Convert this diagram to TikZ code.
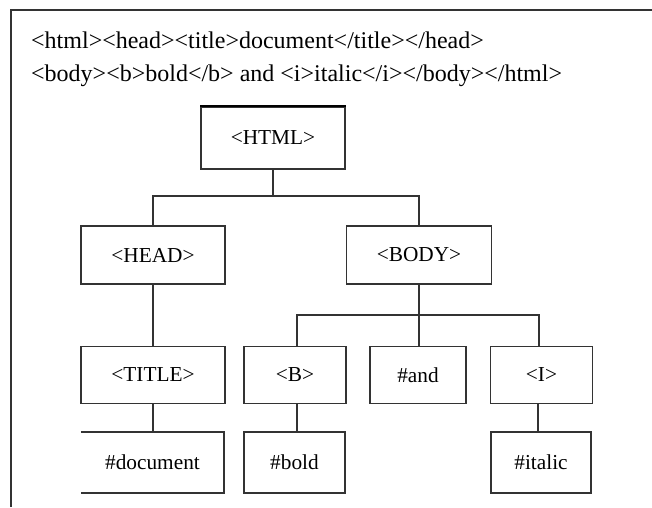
\documentclass[tikz,border=0pt]{standalone}
\usepackage{fontspec}
\setmainfont{Liberation Serif}
\begin{document}
\begin{tikzpicture}[x=1pt,y=-1pt,
  tag/.style={draw=black!80, line width=1.6pt, rectangle, inner sep=0pt,
              font=\fontsize{21.3}{24}\selectfont},
  open/.style={rectangle, inner sep=0pt,
              font=\fontsize{21.3}{24}\selectfont},
  wire/.style={draw=black!80, line width=1.8pt},
  src/.style={anchor=base west, inner sep=0pt,
              font=\fontsize{24}{28}\selectfont}]
\useasboundingbox (0,0) rectangle (652,507);

% frame: top rule and left rule
\draw[black!80, line width=2pt] (11,507) -- (11,10) -- (652,10);

% source markup
\node[src] (line1) at (31,48) {<html><head><title>document</title></head>};
\node[src] (line2) at (31,81) {<body><b>bold</b> and <i>italic</i></body></html>};

% tree nodes
\node[tag, minimum width=144, minimum height=62] (html) at (273,138) {<HTML>};
\node[tag, minimum width=144, minimum height=58] (head) at (153,255) {<HEAD>};
\node[tag, minimum width=145, minimum height=58] (body) at (419,255) {<BODY>};
\node[tag, minimum width=144, minimum height=57] (title) at (153,375) {<TITLE>};
\node[tag, minimum width=102, minimum height=57] (b) at (295,375) {<B>};
\node[tag, minimum width=96, minimum height=57] (and) at (418,375) {\#and};
\node[tag, minimum width=102, minimum height=57] (i) at (541.5,375) {<I>};
\node[open, minimum width=143, minimum height=61] (doc) at (152.5,462.5) {\#document};
\node[tag, minimum width=101, minimum height=61] (bold) at (294.5,462.5) {\#bold};
\node[tag, minimum width=100, minimum height=61] (italic) at (541,462.5) {\#italic};

% heavier top edge of the root box
\draw[black, line width=2.2pt] (html.north west) -- (html.north east);
% the #document box is open on its left side
\draw[wire] (doc.north west) -- (doc.north east) -- (doc.south east) -- (doc.south west);

% connectors
\coordinate (j1) at (273,196);
\draw[wire] (html.south) -- (j1);
\draw[wire] (head.north) |- (j1) -| (body.north);
\draw[wire] (head.south) -- (title.north);
\draw[wire] (title.south) -- (title.south |- doc.north);

\coordinate (j2) at (419,315);
\draw[wire] (body.south) -- (j2) -- (j2 |- and.north);
\draw[wire] ([xshift=2pt]b.north) |- (j2) -| ([xshift=-2.5pt]i.north);
\draw[wire] ([xshift=2pt]b.south) -- ([xshift=2pt]b.south |- bold.north);
\draw[wire] ([xshift=-3.5pt]i.south) -- ([xshift=-3.5pt]i.south |- italic.north);
\end{tikzpicture}
\end{document}
